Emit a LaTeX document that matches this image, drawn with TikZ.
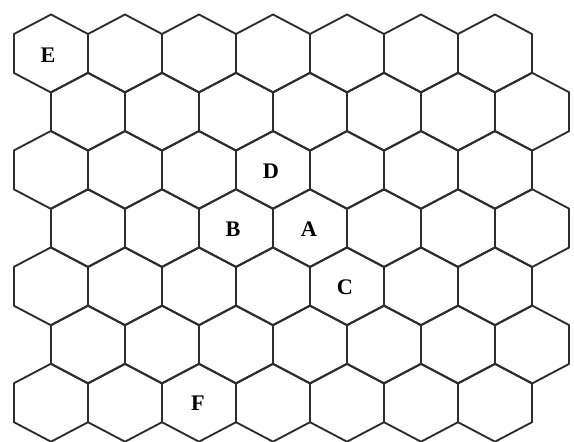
\documentclass[tikz,border=0pt]{standalone}
\usepackage{fontspec}
\setmainfont{Liberation Serif}
\usetikzlibrary{positioning}
\definecolor{HexLine}{RGB}{45,45,45}

\begin{document}
\begin{tikzpicture}[
    x=0.03cm,y=-0.03cm,
    cell/.style={draw=HexLine,line width=1.6pt,line join=round},
    tag/.style={font=\fontsize{19}{19}\selectfont\bfseries,inner sep=0pt}
  ]
    \useasboundingbox (0,0) rectangle (574,442);
    % honeycomb, 7 rows of 7 cells, odd rows pushed half a cell right
    \foreach \r in {0,...,6}{
      \pgfmathsetmacro{\cy}{53.5+58.2*\r}
      \pgfmathsetmacro{\xoff}{mod(\r,2)*37}
      \foreach \k in {0,...,6}{
        \pgfmathsetmacro{\cx}{51+\xoff+74*\k}
        \draw[cell] (\cx,\cy-39) -- ++(37,19.5) -- ++(0,39) -- ++(-37,19.5)
          -- ++(-37,-19.5) -- ++(0,-39) -- cycle;
      }
    }
    \node[tag] (E) at (48,55) {E};
    \node[tag] (D) at (271,171) {D};
    \node[tag] (B) at (233,229) {B};
    \node[tag] (A) at (309,229) {A};
    \node[tag] (C) at (345,287) {C};
    \node[tag] (F) at (198,403) {F};
  \end{tikzpicture}
\end{document}
